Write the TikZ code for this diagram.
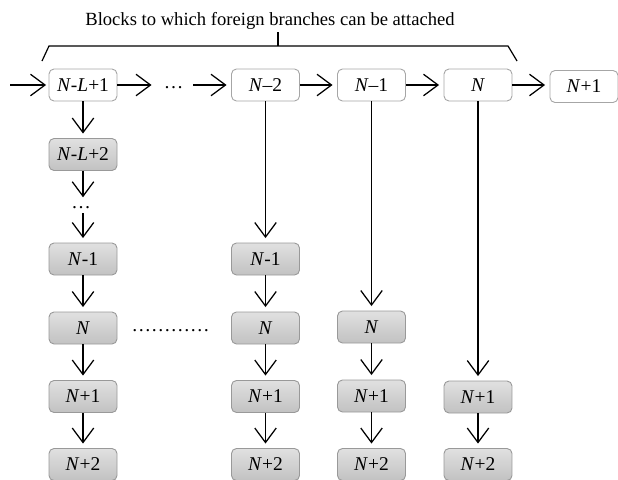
\documentclass[tikz,border=0pt]{standalone}
\usepackage{fontspec}
\setmainfont{Liberation Serif}
\usetikzlibrary{arrows.meta}
\tikzset{
  blk/.style={draw=black!35, fill=white, rounded corners=5pt, minimum width=68pt, minimum height=32pt, inner sep=0pt, line width=0.9pt, font=\fontsize{19.5}{20}\selectfont},
  gblk/.style={blk, draw=black!40, top color=black!12, bottom color=black!24},
  arr/.style={draw=black, line width=1.25pt, -{Straight Barb[length=14.5pt,width=21.5pt,line width=1.25pt]}, shorten >=4.5pt},
  dtxt/.style={font=\fontsize{19.5}{20}\selectfont, inner sep=0pt, anchor=base},
  brk/.style={draw=black, line width=1.2pt}
}
\begin{document}
\begin{tikzpicture}[x=1pt,y=-1pt]
\useasboundingbox (0,0) rectangle (618,479);
% title and bracket
\node[font=\fontsize{18.6}{20}\selectfont, anchor=base, inner sep=0pt] (title) at (270,25) {Blocks to which foreign branches can be attached};
\coordinate (bl) at (42,61);
\coordinate (bl2) at (49,46);
\coordinate (br2) at (508,46);
\coordinate (br) at (517,61);
\coordinate (bm) at (278,46);
\coordinate (bt) at (278,32);
\draw[brk] (bl) -- (bl2) -- (br2) -- (br);
\draw[brk] (bm) -- (bt);
% top row
\node[blk] (t1) at (83,85) {\textit{N}-\textit{L}+1};
\node[blk] (t2) at (265.5,85) {\textit{N}–2};
\node[blk] (t3) at (371.5,85) {\textit{N}–1};
\node[blk] (t4) at (478,85) {\textit{N}};
\node[blk] (t5) at (584,86.5) {\textit{N}+1};
\coordinate (s) at (10,85);
\node[dtxt] (hd) at (173.5,88) {…};
% column 1
\node[gblk] (g1a) at (83,154.5) {\textit{N}-\textit{L}+2};
\node[dtxt] (vd) at (81,208.5) {…};
\node[gblk] (g1b) at (83,259) {\textit{N}-1};
\node[gblk] (g1c) at (83,328) {\textit{N}};
\node[gblk] (g1d) at (83,396.5) {\textit{N}+1};
\node[gblk] (g1e) at (83,464.5) {\textit{N}+2};
% column 2
\node[gblk] (g2b) at (265.5,259) {\textit{N}-1};
\node[gblk] (g2c) at (265.5,328) {\textit{N}};
\node[gblk] (g2d) at (265.5,396.5) {\textit{N}+1};
\node[gblk] (g2e) at (265.5,464.5) {\textit{N}+2};
% column 3
\node[gblk] (g3c) at (371.5,327) {\textit{N}};
\node[gblk] (g3d) at (371.5,396) {\textit{N}+1};
\node[gblk] (g3e) at (371.5,464.5) {\textit{N}+2};
% column 4
\node[gblk] (g4d) at (478,397) {\textit{N}+1};
\node[gblk] (g4e) at (478,464.5) {\textit{N}+2};
% row of dots
\node[dtxt] (rd) at (170.5,331.5) {…………};
% horizontal arrows
\draw[arr, shorten >=2.5pt] (s) -- (t1.west);
\draw[arr, shorten >=12pt] (t1.east) -- (hd.west |- t1.east);
\draw[arr, shorten <=10pt] (hd.east |- t2.west) -- (t2.west);
\draw[arr] (t2) -- (t3);
\draw[arr] (t3) -- (t4);
\draw[arr] (t4.east) -- (t5.west |- t4.east);
% column 1 arrows
\draw[arr] (t1) -- (g1a);
\draw[arr, shorten >=9pt] (g1a.south) -- (g1a.south |- vd.north);
\draw[arr, shorten <=4.5pt] (g1b.north |- vd.south) -- (g1b.north);
\draw[arr] (g1b) -- (g1c);
\draw[arr] (g1c) -- (g1d);
\draw[arr] (g1d) -- (g1e);
% column 2 arrows
\draw[arr] (t2) -- (g2b);
\draw[arr] (g2b) -- (g2c);
\draw[arr] (g2c) -- (g2d);
\draw[arr] (g2d) -- (g2e);
% column 3 arrows
\draw[arr] (t3) -- (g3c);
\draw[arr] (g3c) -- (g3d);
\draw[arr] (g3d) -- (g3e);
% column 4 arrows
\draw[arr] (t4) -- (g4d);
\draw[arr] (g4d) -- (g4e);
\end{tikzpicture}
\end{document}
